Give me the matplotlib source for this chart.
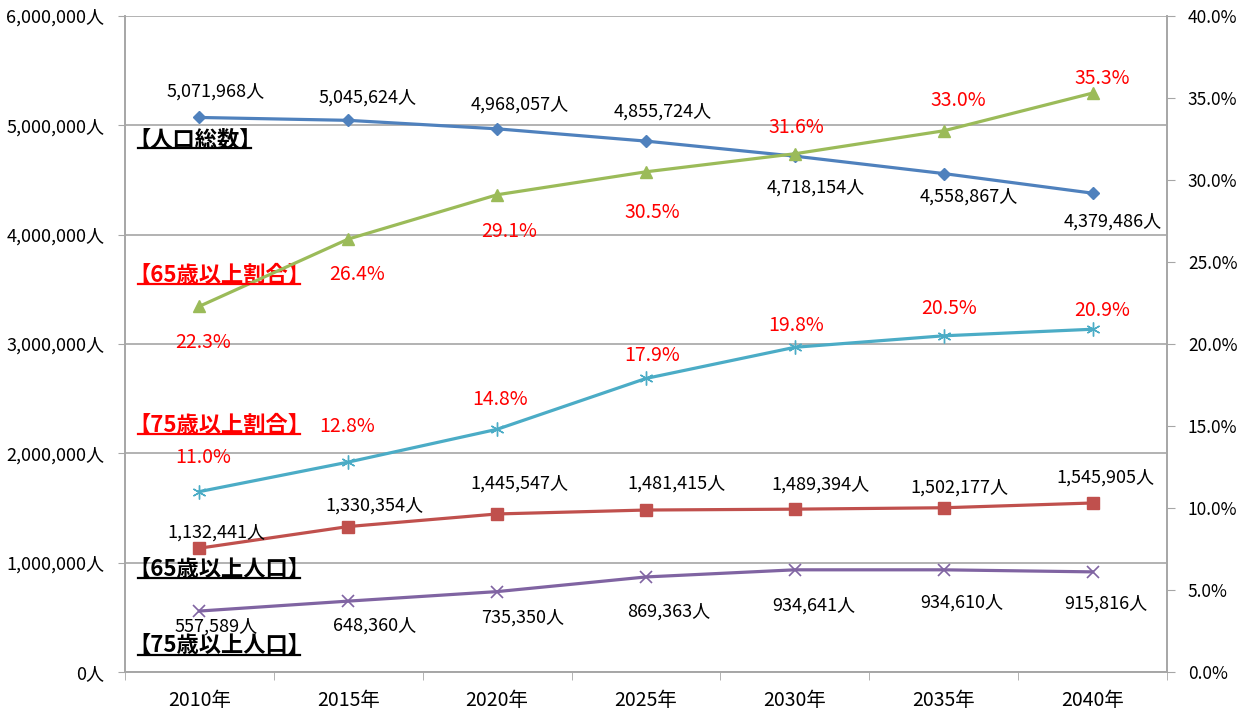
import matplotlib
matplotlib.use('Agg')
import matplotlib.pyplot as plt
from matplotlib.lines import Line2D
from matplotlib.transforms import IdentityTransform
from matplotlib.ticker import FuncFormatter, MultipleLocator

plt.rcParams['font.family'] = ['Noto Sans CJK JP', 'DejaVu Sans']

years = ['2010年', '2015年', '2020年', '2025年', '2030年', '2035年', '2040年']
total_pop = [5071968, 5045624, 4968057, 4855724, 4718154, 4558867, 4379486]
pop_65 = [1132441, 1330354, 1445547, 1481415, 1489394, 1502177, 1545905]
pop_75 = [557589, 648360, 735350, 869363, 934641, 934610, 915816]
ratio_65 = [22.3, 26.4, 29.1, 30.5, 31.6, 33.0, 35.3]
ratio_75 = [11.0, 12.8, 14.8, 17.9, 19.8, 20.5, 20.9]

series_names = ['【人口総数】', '【65歳以上割合】', '【75歳以上割合】',
                '【65歳以上人口】', '【75歳以上人口】']

# label offsets in pixels (dx, dy) relative to each point
off_total = [(16, 26), (19, 23), (23, 24), (17, 29), (21, -31), (25, -23), (20, -28)]
off_65 = [(17, 16), (26, 21), (22, 30), (30, 26), (26, 25), (16, 20), (13, 25)]
off_75 = [(17, -16), (26, -25), (25, -26), (23, -35), (19, -36), (18, -33), (13, -32)]
off_r65 = [(4, -36), (9, -35), (12, -37), (6, -41), (1, 26), (15, 30), (10, 15)]
off_r75 = [(4, 34), (-1, 36), (3, 30), (6, 23), (1, 22), (5, 27), (10, 19)]

blue = '#4F81BD'
red = '#C0504D'
green = '#9BBB59'
purple = '#8064A2'
cyan = '#4BACC6'
grid_c = '#A6A6A6'

fig = plt.figure(figsize=(12.42, 7.13), dpi=100)
ax = fig.add_axes([125 / 1242, 41 / 713, 1042 / 1242, 656 / 713])
ax2 = ax.twinx()

x = list(range(len(years)))

ax.plot(x, pop_75, color=purple, lw=2.3, marker='x', ms=9, mew=1.2, zorder=3)
ax.plot(x, pop_65, color=red, lw=2.3, marker='s', ms=8, zorder=3)
ax.plot(x, total_pop, color=blue, lw=2.3, marker='D', ms=6.5, zorder=3)
ax2.plot(x, ratio_75, color=cyan, lw=2.3, marker=(6, 2, 0), ms=10, mew=1.0, zorder=3)
ax2.plot(x, ratio_65, color=green, lw=2.3, marker='^', ms=9, zorder=3)

lab_fs = 13
pct_fs = 14
for i in x:
    ax.annotate(f'{total_pop[i]:,}人', (i, total_pop[i]), xytext=off_total[i],
                textcoords='offset pixels', ha='center', va='center', fontsize=lab_fs)
    ax.annotate(f'{pop_65[i]:,}人', (i, pop_65[i]), xytext=off_65[i],
                textcoords='offset pixels', ha='center', va='center', fontsize=lab_fs)
    ax.annotate(f'{pop_75[i]:,}人', (i, pop_75[i]), xytext=off_75[i],
                textcoords='offset pixels', ha='center', va='center', fontsize=lab_fs)
    ax2.annotate(f'{ratio_65[i]:.1f}%', (i, ratio_65[i]), xytext=off_r65[i],
                 textcoords='offset pixels', ha='center', va='center',
                 fontsize=pct_fs, color='red')
    ax2.annotate(f'{ratio_75[i]:.1f}%', (i, ratio_75[i]), xytext=off_r75[i],
                 textcoords='offset pixels', ha='center', va='center',
                 fontsize=pct_fs, color='red')

# axes
ax.set_xlim(-0.5, len(years) - 0.5)
ax.set_ylim(0, 6000000)
ax2.set_ylim(0, 40)
ax.yaxis.set_major_locator(MultipleLocator(1000000))
ax.yaxis.set_major_formatter(FuncFormatter(lambda v, p: f'{int(v):,}人'))
ax2.yaxis.set_major_locator(MultipleLocator(5))
ax2.yaxis.set_major_formatter(FuncFormatter(lambda v, p: f'{v:.1f}%'))
ax.set_xticks(x)
ax.set_xticklabels(years, fontsize=14)
ax.set_xticks([i - 0.5 for i in range(len(years) + 1)], minor=True)
ax.tick_params(axis='x', which='major', length=0, pad=13)
ax.tick_params(axis='x', which='minor', length=6, color=grid_c, direction='out')
ax.tick_params(axis='y', length=5, color=grid_c, labelsize=13, pad=10)
ax2.tick_params(axis='y', length=6, color=grid_c, labelsize=12.5, pad=9)

ax.grid(axis='y', color=grid_c, lw=1.2)
ax.set_axisbelow(True)
for a in (ax, ax2):
    a.spines['top'].set_visible(False)
    for s in ('left', 'right', 'bottom'):
        a.spines[s].set_color(grid_c)
        a.spines[s].set_linewidth(1.2)

# series titles, underlined
name_fs = 16
em = name_fs * 100 / 72
name_pos = [0.811, 0.605, 0.3765, 0.1555, 0.0396]
name_col = ['black', 'red', 'red', 'black', 'black']
texts = []
for name, yp, c in zip(series_names, name_pos, name_col):
    t = ax.annotate(name, (0, yp), xycoords='axes fraction', xytext=(14 - em / 2, 0),
                    textcoords='offset pixels', ha='left', va='center',
                    fontsize=name_fs, fontweight='bold', color=c, zorder=5)
    texts.append(t)

fig.canvas.draw()
renderer = fig.canvas.get_renderer()
for t in texts:
    bb = t.get_window_extent(renderer)
    fig.add_artist(Line2D([bb.x0 + em / 2 - 1, bb.x1 - em / 2 + 1], [bb.y0 + 3, bb.y0 + 3],
                          transform=IdentityTransform(), color=t.get_color(), lw=1.6))

fig.savefig('out.png', dpi=100)
